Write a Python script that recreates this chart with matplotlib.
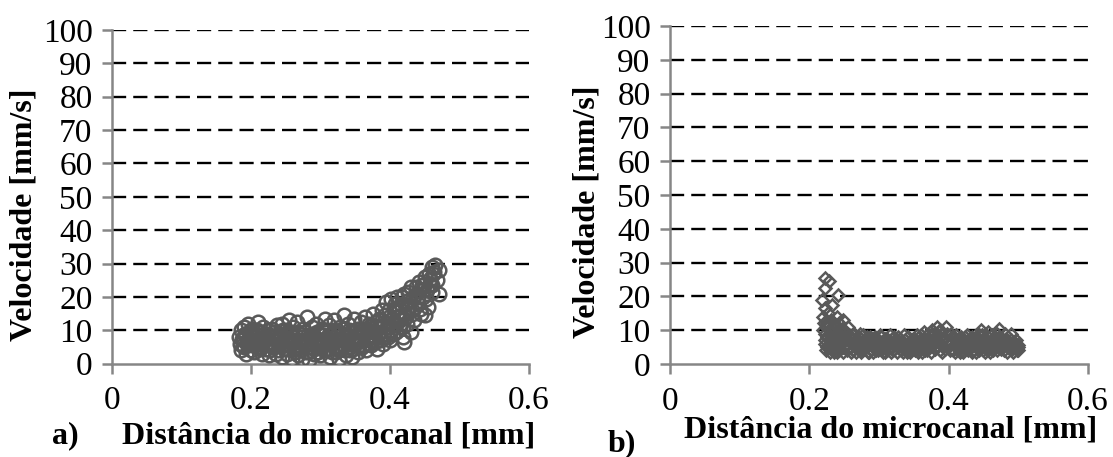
import matplotlib
matplotlib.use("Agg")
import matplotlib.pyplot as plt

plt.rcParams['font.family'] = ['Liberation Serif', 'DejaVu Serif']

# panel a) - circles, outer points of the cloud
xa = [0.183, 0.184, 0.185, 0.186, 0.188, 0.19, 0.19, 0.192, 0.193, 0.195, 0.196, 0.198, 0.2, 0.2,
      0.202, 0.204, 0.205, 0.207, 0.21, 0.21, 0.212, 0.215, 0.216, 0.218, 0.22, 0.222, 0.224, 0.226,
      0.228, 0.23, 0.232, 0.234, 0.236, 0.238, 0.24, 0.242, 0.244, 0.245, 0.247, 0.249, 0.25, 0.252,
      0.254, 0.255, 0.257, 0.259, 0.26, 0.262, 0.264, 0.266, 0.267, 0.269, 0.271, 0.273, 0.275, 0.277,
      0.279, 0.28, 0.282, 0.284, 0.286, 0.288, 0.29, 0.292, 0.294, 0.296, 0.298, 0.3, 0.302, 0.304,
      0.306, 0.308, 0.31, 0.312, 0.314, 0.316, 0.318, 0.32, 0.322, 0.324, 0.326, 0.328, 0.33, 0.332,
      0.334, 0.336, 0.338, 0.34, 0.342, 0.344, 0.346, 0.348, 0.35, 0.352, 0.354, 0.356, 0.358, 0.36,
      0.362, 0.364, 0.366, 0.368, 0.37, 0.372, 0.374, 0.376, 0.378, 0.38, 0.382, 0.384, 0.386, 0.388,
      0.39, 0.392, 0.394, 0.396, 0.398, 0.4, 0.402, 0.404, 0.406, 0.408, 0.41, 0.412, 0.414, 0.416,
      0.418, 0.42, 0.42, 0.422, 0.425, 0.427, 0.43, 0.43, 0.432, 0.435, 0.437, 0.44, 0.442, 0.445,
      0.447, 0.45, 0.45, 0.452, 0.455, 0.457, 0.46, 0.46, 0.462, 0.465, 0.467, 0.47, 0.47]
ya = [8, 6, 10, 4, 7, 11, 5, 9, 3, 7, 12, 6, 9, 4,
      10.5, 7, 3.5, 8, 12.5, 5, 9.5, 6, 3, 11, 7.5, 4.5, 9, 2.5,
      6.5, 10.5, 5, 8, 3, 11.5, 6, 9, 2, 12, 4.5, 7.5, 10, 3,
      13, 6, 8.5, 1.5, 11, 4.5, 7, 12.5, 2.5, 9, 5.5, 1.5, 10.5, 7,
      3.5, 14, 8.5, 1, 5, 11, 3, 7.5, 12, 5, 9, 2.5, 10.5, 6.5,
      13.5, 4, 8, 11.5, 2, 6, 9.5, 13, 3.5, 7.5, 1.5, 11, 5, 9,
      14.5, 2.5, 7, 12, 4, 9.5, 2, 13.5, 6, 10.5, 3.5, 8, 12.5, 5,
      10, 14, 4, 7.5, 12, 5.5, 9.5, 15, 6.5, 11, 4.5, 13.5, 8, 16,
      6, 11.5, 18.5, 9, 14, 7, 19.5, 12, 16.5, 9.5, 20, 14, 11, 18,
      8, 6.5, 21, 15, 12, 19, 9.5, 23, 16, 13, 21, 18, 24.5, 15,
      22, 14.5, 26, 19.5, 17, 24, 29, 21.5, 27, 29.5, 25, 28, 21]

# panel a) - core of the cloud
xa_core = [0.187, 0.189, 0.191, 0.194, 0.197, 0.199, 0.201, 0.203, 0.206, 0.208, 0.211, 0.213,
           0.214, 0.217, 0.219, 0.221, 0.223, 0.225, 0.227, 0.229, 0.231, 0.233, 0.235, 0.237,
           0.239, 0.241, 0.243, 0.246, 0.248, 0.251, 0.253, 0.256, 0.258, 0.261, 0.263, 0.265,
           0.268, 0.27, 0.272, 0.274, 0.276, 0.278, 0.281, 0.283, 0.285, 0.287, 0.289, 0.291,
           0.293, 0.295, 0.297, 0.299, 0.301, 0.303, 0.305, 0.307, 0.309, 0.311, 0.313, 0.315,
           0.317, 0.319, 0.321, 0.323, 0.325, 0.327, 0.329, 0.331, 0.333, 0.335, 0.337, 0.339,
           0.341, 0.343, 0.345, 0.347, 0.349, 0.351, 0.353, 0.355, 0.357, 0.359, 0.361, 0.363,
           0.365, 0.367, 0.369, 0.371, 0.373, 0.375, 0.377, 0.379, 0.381, 0.383, 0.385, 0.387,
           0.389, 0.391, 0.393, 0.395, 0.397, 0.399, 0.401, 0.403, 0.405, 0.407, 0.409, 0.411,
           0.413, 0.415, 0.417, 0.419, 0.421, 0.423, 0.426, 0.428, 0.431, 0.433, 0.436, 0.438,
           0.441, 0.443, 0.446, 0.448, 0.451, 0.453, 0.456, 0.458, 0.461, 0.463]
ya_core = [7.5, 5.5, 8.5, 6, 9.5, 7, 5.5, 8, 6.5, 10, 7.5, 4.5,
           8.5, 6.5, 9, 5.5, 7.5, 10, 4, 8, 6, 9.5, 5.5, 7.5,
           4, 8.5, 6.5, 10, 5.5, 7, 4.5, 9.5, 6.5, 8, 3.5, 5.5,
           9.5, 7, 4, 8, 5.5, 9.5, 6.5, 3.5, 8, 6, 9, 4.5,
           6.5, 9.5, 3.5, 7, 5, 8.5, 4, 10, 6, 4.5, 8.5, 6.5,
           3.5, 10, 7, 5, 9, 4, 7.5, 10.5, 6, 4, 9, 6.5,
           10, 5, 7.5, 4.5, 9.5, 6.5, 8, 5.5, 10.5, 7, 5.5, 9,
           7, 10.5, 6, 8.5, 11.5, 7, 9.5, 8, 12.5, 9, 11, 7,
           13, 9, 14.5, 11, 8, 16, 10, 13.5, 9, 18, 12, 15.5,
           17, 13, 20, 11, 17.5, 14, 21.5, 17, 15, 20, 17, 23,
           20, 16.5, 23.5, 20, 24, 22, 27, 25.5, 23.5, 27.5]

# panel b) - diamonds, outer points
xb = [0.222, 0.228, 0.222, 0.218, 0.241, 0.233, 0.223, 0.249, 0.239, 0.22, 0.225, 0.22, 0.228,
      0.222, 0.225, 0.23, 0.235, 0.232, 0.238, 0.242, 0.245, 0.24, 0.248, 0.252, 0.255, 0.258,
      0.26, 0.263, 0.266, 0.27, 0.273, 0.276, 0.28, 0.283, 0.286, 0.29, 0.293, 0.296, 0.3, 0.303,
      0.306, 0.31, 0.313, 0.316, 0.32, 0.323, 0.326, 0.33, 0.333, 0.336, 0.34, 0.343, 0.346, 0.35,
      0.353, 0.356, 0.36, 0.363, 0.366, 0.37, 0.373, 0.376, 0.38, 0.383, 0.386, 0.39, 0.393,
      0.396, 0.4, 0.403, 0.406, 0.41, 0.413, 0.416, 0.42, 0.423, 0.426, 0.43, 0.433, 0.436, 0.44,
      0.443, 0.446, 0.45, 0.453, 0.456, 0.46, 0.463, 0.466, 0.47, 0.473, 0.476, 0.48, 0.483,
      0.486, 0.49, 0.493, 0.496, 0.5, 0.498]
yb = [25.5, 24.5, 22.5, 19, 20.5, 17.5, 16.5, 13, 14, 14, 12, 10, 9,
      7, 5, 11.5, 8, 4.5, 6, 10, 7, 3.5, 5, 9, 11, 6.5,
      3.5, 8.5, 5, 7, 9, 4, 6, 8, 3.5, 5.5, 7.5, 4, 6, 8,
      3.5, 5, 7, 8.5, 4, 6, 3.5, 7.5, 5, 8.5, 3.5, 6, 4.5, 7.5,
      5, 3.5, 8.5, 6, 4, 9, 7, 10, 4.5, 11, 6.5, 3.5, 8,
      11, 5.5, 9, 4, 7, 5, 3.5, 6.5, 8, 4.5, 6, 3.5, 7.5, 5,
      8.5, 10, 4, 6.5, 9.5, 3.5, 7, 5, 9, 10.5, 6, 4, 7.5,
      5, 9, 3.5, 6, 5, 4]

# panel b) - core of the band
xb_core = [0.221, 0.222, 0.223, 0.224, 0.224, 0.226, 0.227, 0.227, 0.229, 0.229, 0.231, 0.231,
           0.233, 0.234, 0.236, 0.236, 0.237, 0.239, 0.24, 0.242, 0.243, 0.244, 0.246, 0.247,
           0.249, 0.25, 0.251, 0.253, 0.254, 0.256, 0.257, 0.259, 0.261, 0.262, 0.264, 0.265,
           0.267, 0.268, 0.27, 0.272, 0.274, 0.275, 0.277, 0.279, 0.281, 0.282, 0.284, 0.285,
           0.287, 0.289, 0.291, 0.292, 0.294, 0.295, 0.298, 0.299, 0.301, 0.302, 0.304, 0.305,
           0.308, 0.309, 0.311, 0.312, 0.315, 0.317, 0.318, 0.319, 0.321, 0.322, 0.325, 0.327,
           0.328, 0.331, 0.332, 0.335, 0.337, 0.338, 0.341, 0.342, 0.344, 0.345, 0.348, 0.349,
           0.351, 0.352, 0.354, 0.355, 0.358, 0.359, 0.361, 0.362, 0.364, 0.365, 0.368, 0.369,
           0.371, 0.372, 0.374, 0.375, 0.378, 0.379, 0.381, 0.382, 0.385, 0.387, 0.388, 0.389,
           0.391, 0.392, 0.395, 0.397, 0.398, 0.401, 0.402, 0.404, 0.405, 0.408, 0.409, 0.411,
           0.412, 0.415, 0.417, 0.418, 0.419, 0.421, 0.422, 0.425, 0.427, 0.428, 0.431, 0.432,
           0.434, 0.435, 0.438, 0.439, 0.441, 0.442, 0.444, 0.445, 0.448, 0.449, 0.451, 0.452,
           0.455, 0.457, 0.458, 0.461, 0.462, 0.464, 0.465, 0.468, 0.469, 0.471, 0.472, 0.475,
           0.477, 0.478, 0.481, 0.482, 0.484, 0.485, 0.488, 0.489, 0.491, 0.492, 0.495, 0.497,
           0.499, 0.5]
yb_core = [12, 9, 6, 4, 11, 8, 15, 5.5, 3.5, 10, 7, 13,
           5, 9, 11.5, 3.5, 7, 9.5, 5.5, 12, 4, 8.5, 6, 10.5,
           3.5, 7.5, 5, 9.5, 4, 7, 8.5, 5, 7, 4, 9, 6,
           3.5, 7.5, 5, 8, 3.5, 6.5, 8.5, 4.5, 7, 5, 3.5, 6.5,
           8, 4.5, 6.5, 3.5, 8, 5.5, 7, 4, 6, 8.5, 4.5, 6.5,
           3.5, 7.5, 5.5, 4, 6, 3.5, 7.5, 5, 8, 4.5, 6.5, 5,
           8, 4, 6.5, 3.5, 7, 5, 8, 4.5, 6.5, 3.5, 7, 5,
           4, 6.5, 8.5, 5, 4, 7, 5, 3.5, 7.5, 9.5, 5.5, 4,
           7, 5.5, 8.5, 3.5, 6, 9, 7, 5, 8.5, 4, 10, 6,
           5.5, 7.5, 4.5, 6.5, 9, 7, 4, 6, 8, 5.5, 3.5, 8.5,
           6, 7, 4.5, 8, 5.5, 3.5, 7, 5.5, 8.5, 4, 7, 5,
           8, 4, 6, 3.5, 7, 5.5, 4, 7, 8.5, 5.5, 7, 3.5,
           5, 8, 4.5, 6, 8.5, 4, 5.5, 7, 4, 6, 8, 4.5,
           7.5, 5.5, 9, 6, 3.5, 6.5, 5, 7, 4.5, 6.5, 5, 7,
           5.5, 4]

yticks = [0, 10, 20, 30, 40, 50, 60, 70, 80, 90, 100]
xticks = [0, 0.2, 0.4, 0.6]
xtick_labels = ['0', '0.2', '0.4', '0.6']

mcolor = '#595959'
axcolor = '#868686'

fig = plt.figure(figsize=(11.13, 4.57), dpi=100)
ax1 = fig.add_axes([0.1006, 0.2042, 0.3747, 0.7302])
ax2 = fig.add_axes([0.602, 0.2035, 0.3755, 0.7395])

for xs, ys in ((xa, ya), (xa_core, ya_core)):
    ax1.plot(xs, ys, 'o', ms=9.8, mfc='none', mec=mcolor, mew=1.8, zorder=3)
for xs, ys in ((xb, yb), (xb_core, yb_core)):
    ax2.plot(xs, ys, 'D', ms=6.5, mfc='none', mec=mcolor, mew=1.8, zorder=3)

for ax in (ax1, ax2):
    ax.set_xlim(0, 0.6)
    ax.set_ylim(0, 100)
    ax.set_yticks(yticks)
    ax.set_xticks(xticks)
    ax.set_xticklabels(xtick_labels)
    for y in yticks[1:]:
        ax.axhline(y, color='black', lw=1.7, ls=(0, (6, 3)), zorder=1)
    for s in ['top', 'right']:
        ax.spines[s].set_visible(False)
    for s in ['left', 'bottom']:
        ax.spines[s].set_color(axcolor)
        ax.spines[s].set_linewidth(1.8)
        ax.spines[s].set_zorder(2)
    ax.tick_params(axis='both', direction='out', length=7, width=1.8, color=axcolor,
                   labelsize=24)
    ax.tick_params(axis='y', pad=7)
    ax.tick_params(axis='x', pad=9)
    ax.set_ylabel('Velocidade [mm/s]', fontsize=23, fontweight='bold')

ax1.yaxis.set_label_coords(-0.175, 0.446)
ax2.yaxis.set_label_coords(-0.165, 0.45)

fig.text(0.295, 0.046, 'Distância do microcanal [mm]', fontsize=23, fontweight='bold',
         ha='center', va='center')
fig.text(0.059, 0.046, 'a)', fontsize=23, fontweight='bold', ha='center', va='center')
fig.text(0.80, 0.058, 'Distância do microcanal [mm]', fontsize=23, fontweight='bold',
         ha='center', va='center')
fig.text(0.559, 0.028, 'b)', fontsize=23, fontweight='bold', ha='center', va='center')

fig.savefig('out.png', dpi=100)
